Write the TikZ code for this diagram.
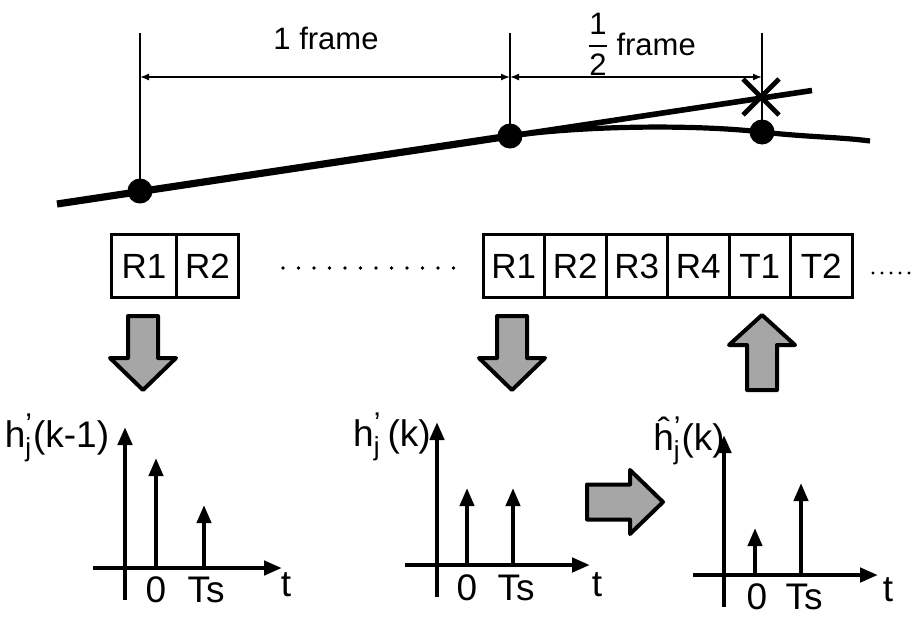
\documentclass[tikz,border=0pt]{standalone}
\usepackage{fontspec}
\setmainfont{Liberation Sans}
\usetikzlibrary{arrows.meta,positioning}

% h with a prime above and j below
\newcommand{\chanh}[1]{#1$^{\hbox{\fontsize{15}{15}\selectfont ’}}_{\hbox{\fontsize{13}{13}\selectfont j}}$}

\begin{document}
\begin{tikzpicture}[
    x=0.5pt, y=-0.5pt,
    >={Triangle[length=9pt,width=7pt]},
    every node/.style={font=\fontsize{15.5}{18}\selectfont},
    guide/.style={line width=0.7pt},
    dim/.style={line width=0.7pt, <->, >={Latex[length=4.5pt,width=3.5pt]}},
    track/.style={line width=2.8pt},
    dot/.style={circle, fill, inner sep=0pt, minimum size=12.5pt},
    slot/.style={draw, line width=1.5pt, outer sep=0pt, inner sep=0pt,
        minimum height=31.5pt, minimum width=30.75pt,
        font=\fontsize{17.5}{20}\selectfont},
    blockarrow/.style={draw, line width=2pt, fill=black!35, line join=round},
    axis/.style={line width=2.2pt, ->},
    tap/.style={line width=2pt, ->},
    lbl/.style={font=\fontsize{18.5}{21}\selectfont, inner sep=0pt},
]
\useasboundingbox (0,0) rectangle (913,616);

% --- sample points on the channel track ---
\node[dot] (p1) at (140,191) {};
\node[dot] (p2) at (510,136) {};
\node[dot] (p3) at (762,132) {};

% guide lines up to the frame marks
\coordinate (g1) at (140,33);
\coordinate (g2) at (510,33);
\coordinate (g3) at (762,33);
\draw[guide] (g1) -- (p1.center);
\draw[guide] (g2) -- (p2.center);
\draw[guide] (g3) -- (p3.center);

% frame spacing
\coordinate (d1) at (140,77);
\coordinate (d2) at (510,77);
\coordinate (d3) at (762,77);
\draw[dim] (d1) -- (d2);
\draw[dim] (d2) -- (d3);
\node (oneframe) at (326,38) {1 frame};
\node[inner sep=0pt] (half) at (598,44) {$\displaystyle{\hbox{1}\above 1pt\hbox{2}}$};
\node[right=0pt of half] (halfframe) {frame};

% linear extrapolation and the true track
\draw[track, line width=3.6pt] (57,204) -- (p2.center);
\draw[track] (p2.center) -- (812,90.5);
\draw[track, line width=2.6pt] (p2.center) .. controls (580,126) and (690,124) .. (p3.center)
    .. controls (805,137) and (840,137) .. (870,141);

% extrapolated estimate
\coordinate (est) at (761,97);
\draw[line width=2.4pt] (743,79) -- (779,115) (743,115) -- (779,79);

% --- slot sequence ---
\node[slot, minimum width=32.5pt] (lR1) at (144,266) {R1};
\node[slot, minimum width=31pt, right=0pt of lR1] (lR2) {R2};

\foreach \i in {0,...,11}
    \fill (283+15.5*\i,268) circle (1.8);

\node[slot] (rR1) at (513.75,266) {R1};
\node[slot, right=0pt of rR1] (rR2) {R2};
\node[slot, right=0pt of rR2] (rR3) {R3};
\node[slot, right=0pt of rR3] (rR4) {R4};
\node[slot, right=0pt of rR4] (rT1) {T1};
\node[slot, right=0pt of rT1] (rT2) {T2};

\foreach \i in {0,...,4}
    \fill (873+9*\i,273) circle (1.6);

% --- block arrows ---
\draw[blockarrow] (143,390) -- ++(-33,-32) -- ++(18,0) -- ++(0,-42)
    -- ++(30,0) -- ++(0,42) -- ++(18,0) -- cycle;
\draw[blockarrow] (512,390) -- ++(-33,-32) -- ++(18,0) -- ++(0,-42)
    -- ++(30,0) -- ++(0,42) -- ++(18,0) -- cycle;
\draw[blockarrow] (762,315) -- ++(33,30) -- ++(-18,0) -- ++(0,45)
    -- ++(-30,0) -- ++(0,-45) -- ++(-18,0) -- cycle;
\draw[blockarrow] (663,502) -- ++(-33,-32) -- ++(0,14.5) -- ++(-43,0)
    -- ++(0,35) -- ++(43,0) -- ++(0,14.5) -- cycle;

% --- impulse responses ---
\begin{scope}[shift={(125,568)}]
    \draw[axis] (-32,0) -- (157,0);
    \draw[axis] (0,32) -- (0,-141);
    \draw[tap] (31,0) -- (31,-110);
    \draw[tap] (79,0) -- (79,-63);
\end{scope}
\node[lbl] (h1) at (57,438) {\chanh{h}(k-1)};
\node[lbl] (z1) at (156,590) {0};
\node[lbl] (ts1) at (206,590) {Ts};
\node[lbl] (t1) at (286,585) {t};

\begin{scope}[shift={(437,565)}]
    \draw[axis] (-32,0) -- (153,0);
    \draw[axis] (0,32) -- (0,-143);
    \draw[tap] (30,0) -- (30,-77);
    \draw[tap] (76,0) -- (76,-77);
\end{scope}
\node[lbl] (h2) at (392,437) {\chanh{h}\,(k)};
\node[lbl] (z2) at (467,588) {0};
\node[lbl] (ts2) at (516,588) {Ts};
\node[lbl] (t2) at (597,585) {t};

\begin{scope}[shift={(724,575)}]
    \draw[axis] (-31,0) -- (154,0);
    \draw[axis] (0,32) -- (0,-140);
    \draw[tap] (31,0) -- (31,-47);
    \draw[tap] (77,0) -- (77,-92);
\end{scope}
\node[lbl] (h3) at (689,441) {\chanh{\^h}(k)};
\node[lbl] (z3) at (757,597) {0};
\node[lbl] (ts3) at (804,597) {Ts};
\node[lbl] (t3) at (888,590) {t};

\end{tikzpicture}
\end{document}
